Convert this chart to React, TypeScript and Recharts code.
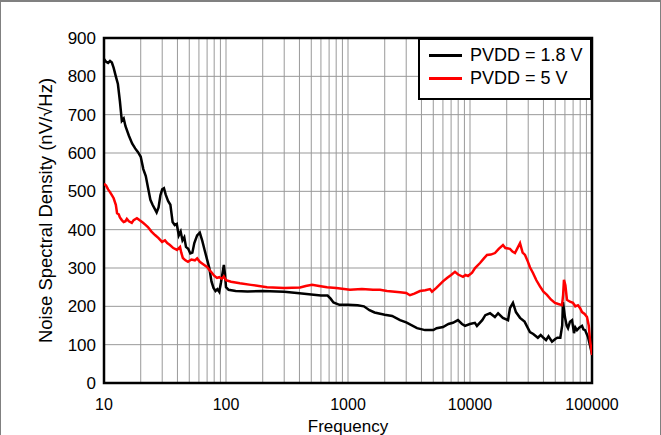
import React from 'react';
import { LineChart, Line, XAxis, YAxis, CartesianGrid, Legend, ReferenceArea } from 'recharts';

const blackFreq = [10, 10.4, 10.8, 11.2, 11.6, 12.0, 12.5, 13.0, 13.5, 14.0, 14.5, 15.0, 16.0, 17.0, 18.0, 19.0, 20.0, 21.0, 22.0, 23.0, 24.0, 25.0, 26.0, 27.0, 28.0, 29.0, 30.0, 31.0, 32.0, 33.5, 35.0, 36.5, 38.0, 39.5, 41.0, 42.5, 44.0, 45.5, 47.0, 49.0, 51.0, 53.0, 55.0, 58.0, 61.0, 64.0, 67.0, 70.0, 73.0, 76.0, 79.0, 82.0, 85.0, 88.0, 91.0, 94.0, 96.0, 98.0, 100, 105, 120, 150, 200, 300, 400, 500, 600, 680, 720, 760, 850, 1000, 1200, 1350, 1500, 1650, 2000, 2300, 2670, 3000, 3680, 4280, 5000, 5330, 6010, 6660, 7240, 7970, 8600, 9100, 9980, 10960, 11400, 12600, 13350, 14600, 16000, 17000, 18600, 20500, 21260, 22500, 23800, 25700, 28000, 31000, 33000, 36000, 38000, 40000, 42000, 44000, 47000, 50000, 52000, 55000, 57000, 57800, 59000, 60000, 62000, 63600, 66000, 68600, 71200, 73000, 75300, 79000, 82800, 85000, 87700, 90000, 92700, 96000, 100000];
const blackNsd = [845, 838, 835, 840, 836, 822, 800, 780, 735, 684, 690, 670, 645, 625, 612, 602, 590, 558, 540, 508, 478, 465, 455, 445, 458, 490, 505, 508, 492, 475, 465, 420, 412, 415, 385, 395, 372, 380, 355, 350, 338, 340, 365, 385, 392, 370, 345, 322, 300, 265, 248, 240, 245, 238, 262, 290, 308, 285, 250, 243, 240, 239, 240, 238, 234, 231, 228, 228, 220, 210, 204, 204, 203, 200, 190, 184, 178, 175, 164, 158, 143, 138, 138, 143, 146, 154, 157, 164, 154, 149, 154, 157, 149, 164, 177, 182, 172, 182, 170, 164, 195, 209, 185, 170, 160, 133, 128, 118, 125, 118, 112, 122, 108, 115, 118, 118, 150, 211, 190, 172, 150, 143, 160, 164, 130, 145, 138, 145, 149, 140, 138, 130, 120, 100, 75];

const redFreq = [10, 10.4, 10.8, 11.2, 11.6, 12.0, 12.5, 12.8, 13.2, 13.5, 14.0, 14.5, 15.0, 15.4, 16.0, 16.9, 17.5, 18.6, 19.5, 20.9, 22.0, 22.9, 24.5, 26.2, 28.0, 29.9, 31.6, 33.0, 34.7, 37.0, 39.7, 42.0, 43.0, 44.3, 46.5, 48.8, 52.0, 55.6, 58.0, 61.0, 65.0, 69.9, 73.0, 76.8, 80.0, 84.3, 88.0, 92.6, 96.0, 100, 110, 130, 160, 217, 300, 405, 450, 507, 580, 673, 800, 1037, 1300, 1603, 1830, 2089, 2670, 3000, 3220, 3500, 3890, 4300, 4700, 4880, 5300, 6000, 6480, 7000, 7530, 8000, 8760, 9200, 9630, 10400, 11000, 12080, 13000, 13780, 14800, 16020, 17200, 18630, 19500, 21260, 22300, 23370, 24500, 25700, 27000, 28250, 29870, 31000, 32830, 35000, 37450, 40000, 42760, 46000, 49730, 53000, 56800, 58000, 58900, 60500, 62340, 66000, 69800, 73000, 76700, 80000, 82800, 87000, 91000, 94000, 96300, 100000];
const redNsd = [520, 515, 505, 498, 490, 482, 465, 443, 440, 432, 425, 420, 422, 428, 422, 418, 425, 430, 425, 418, 412, 407, 395, 386, 378, 368, 372, 365, 360, 352, 347, 355, 340, 326, 320, 316, 322, 320, 325, 316, 310, 303, 295, 287, 280, 274, 276, 272, 278, 268, 264, 260, 256, 250, 248, 249, 253, 256, 253, 250, 248, 243, 245, 243, 243, 240, 237, 235, 229, 233, 240, 242, 245, 238, 248, 265, 274, 282, 290, 283, 277, 282, 279, 288, 300, 313, 325, 334, 335, 339, 350, 360, 352, 350, 343, 339, 352, 365, 340, 334, 316, 302, 287, 268, 252, 238, 230, 218, 209, 206, 203, 230, 269, 255, 217, 212, 209, 200, 203, 195, 185, 180, 172, 150, 112, 73];

const xGridTicks = [10, 20, 30, 40, 50, 60, 70, 80, 90, 100, 200, 300, 400, 500, 600, 700, 800, 900, 1000, 2000, 3000, 4000, 5000, 6000, 7000, 8000, 9000, 10000, 20000, 30000, 40000, 50000, 60000, 70000, 80000, 90000, 100000];
const xLabelTicks = [10, 100, 1000, 10000, 100000];
const yTicks = [0, 100, 200, 300, 400, 500, 600, 700, 800, 900];
const seriesNames = ['PVDD = 1.8 V', 'PVDD = 5 V'];
const seriesColors = ['#000000', '#ff0000'];

const blackData = blackFreq.map((f, i) => ({ f, v: blackNsd[i] }));
const redData = redFreq.map((f, i) => ({ f, v: redNsd[i] }));

const FONT = '"Liberation Sans", Arial, sans-serif';

const LegendBox = () => (
  <div style={{ position: 'relative', width: 174, height: 62, border: '2px solid #000', boxSizing: 'border-box', background: '#fff', fontFamily: FONT, fontSize: 18, color: '#000' }}>
    {seriesNames.map((name, i) => (
      <div key={name}>
        <div style={{ position: 'absolute', left: 9, top: 14 + i * 23, width: 33, height: 3, background: seriesColors[i] }} />
        <div style={{ position: 'absolute', left: 50, top: 4 + i * 23, lineHeight: '22px', whiteSpace: 'nowrap' }}>{name}</div>
      </div>
    ))}
  </div>
);

export default function App() {
  return (
    <div style={{ position: 'absolute', left: 0, top: 0, width: 661, height: 435, background: '#fff' }}>
      <LineChart width={661} height={435} margin={{ top: 38, right: 69, bottom: 0, left: 0 }}>
        <CartesianGrid stroke="#999999" strokeWidth={1} />
        <XAxis
          dataKey="f"
          type="number"
          scale="log"
          domain={[10, 100000]}
          allowDataOverflow
          ticks={xGridTicks}
          interval={0}
          tickFormatter={(v: number) => (xLabelTicks.includes(v) ? String(v) : '')}
          tickLine={false}
          axisLine={false}
          height={52}
          tickMargin={10}
          tick={{ fill: '#000', fontSize: 16, fontFamily: FONT }}
          label={{ value: 'Frequency', position: 'insideBottom', offset: 3, fill: '#000', fontSize: 17, fontFamily: FONT }}
        />
        <YAxis
          type="number"
          domain={[0, 900]}
          ticks={yTicks}
          interval={0}
          tickLine={false}
          axisLine={false}
          width={104}
          tick={{ fill: '#000', fontSize: 17, fontFamily: FONT }}
          label={{ value: 'Noise Spectral Density (nV/\u221AHz)', angle: -90, position: 'insideLeft', offset: 45, fill: '#000', fontSize: 18.5, fontFamily: FONT, style: { textAnchor: 'middle' } }}
        />
        <Line data={blackData} dataKey="v" name={seriesNames[0]} stroke={seriesColors[0]} strokeWidth={2.5} dot={false} isAnimationActive={false} />
        <Line data={redData} dataKey="v" name={seriesNames[1]} stroke={seriesColors[1]} strokeWidth={2.5} dot={false} isAnimationActive={false} />
        <ReferenceArea x1={10} x2={100000} y1={0} y2={900} fill="none" stroke="#000" strokeWidth={2.5} ifOverflow="visible" />
        <Legend layout="vertical" verticalAlign="middle" align="center" wrapperStyle={{ top: 38, left: 418, width: 174, height: 62 }} content={LegendBox} />
      </LineChart>
      <div style={{ position: 'absolute', left: 0, top: 0, width: 661, height: 435, boxSizing: 'border-box', borderTop: '2px solid #808080', borderLeft: '1px solid #808080', borderRight: '1px solid #808080', pointerEvents: 'none' }} />
    </div>
  );
}
